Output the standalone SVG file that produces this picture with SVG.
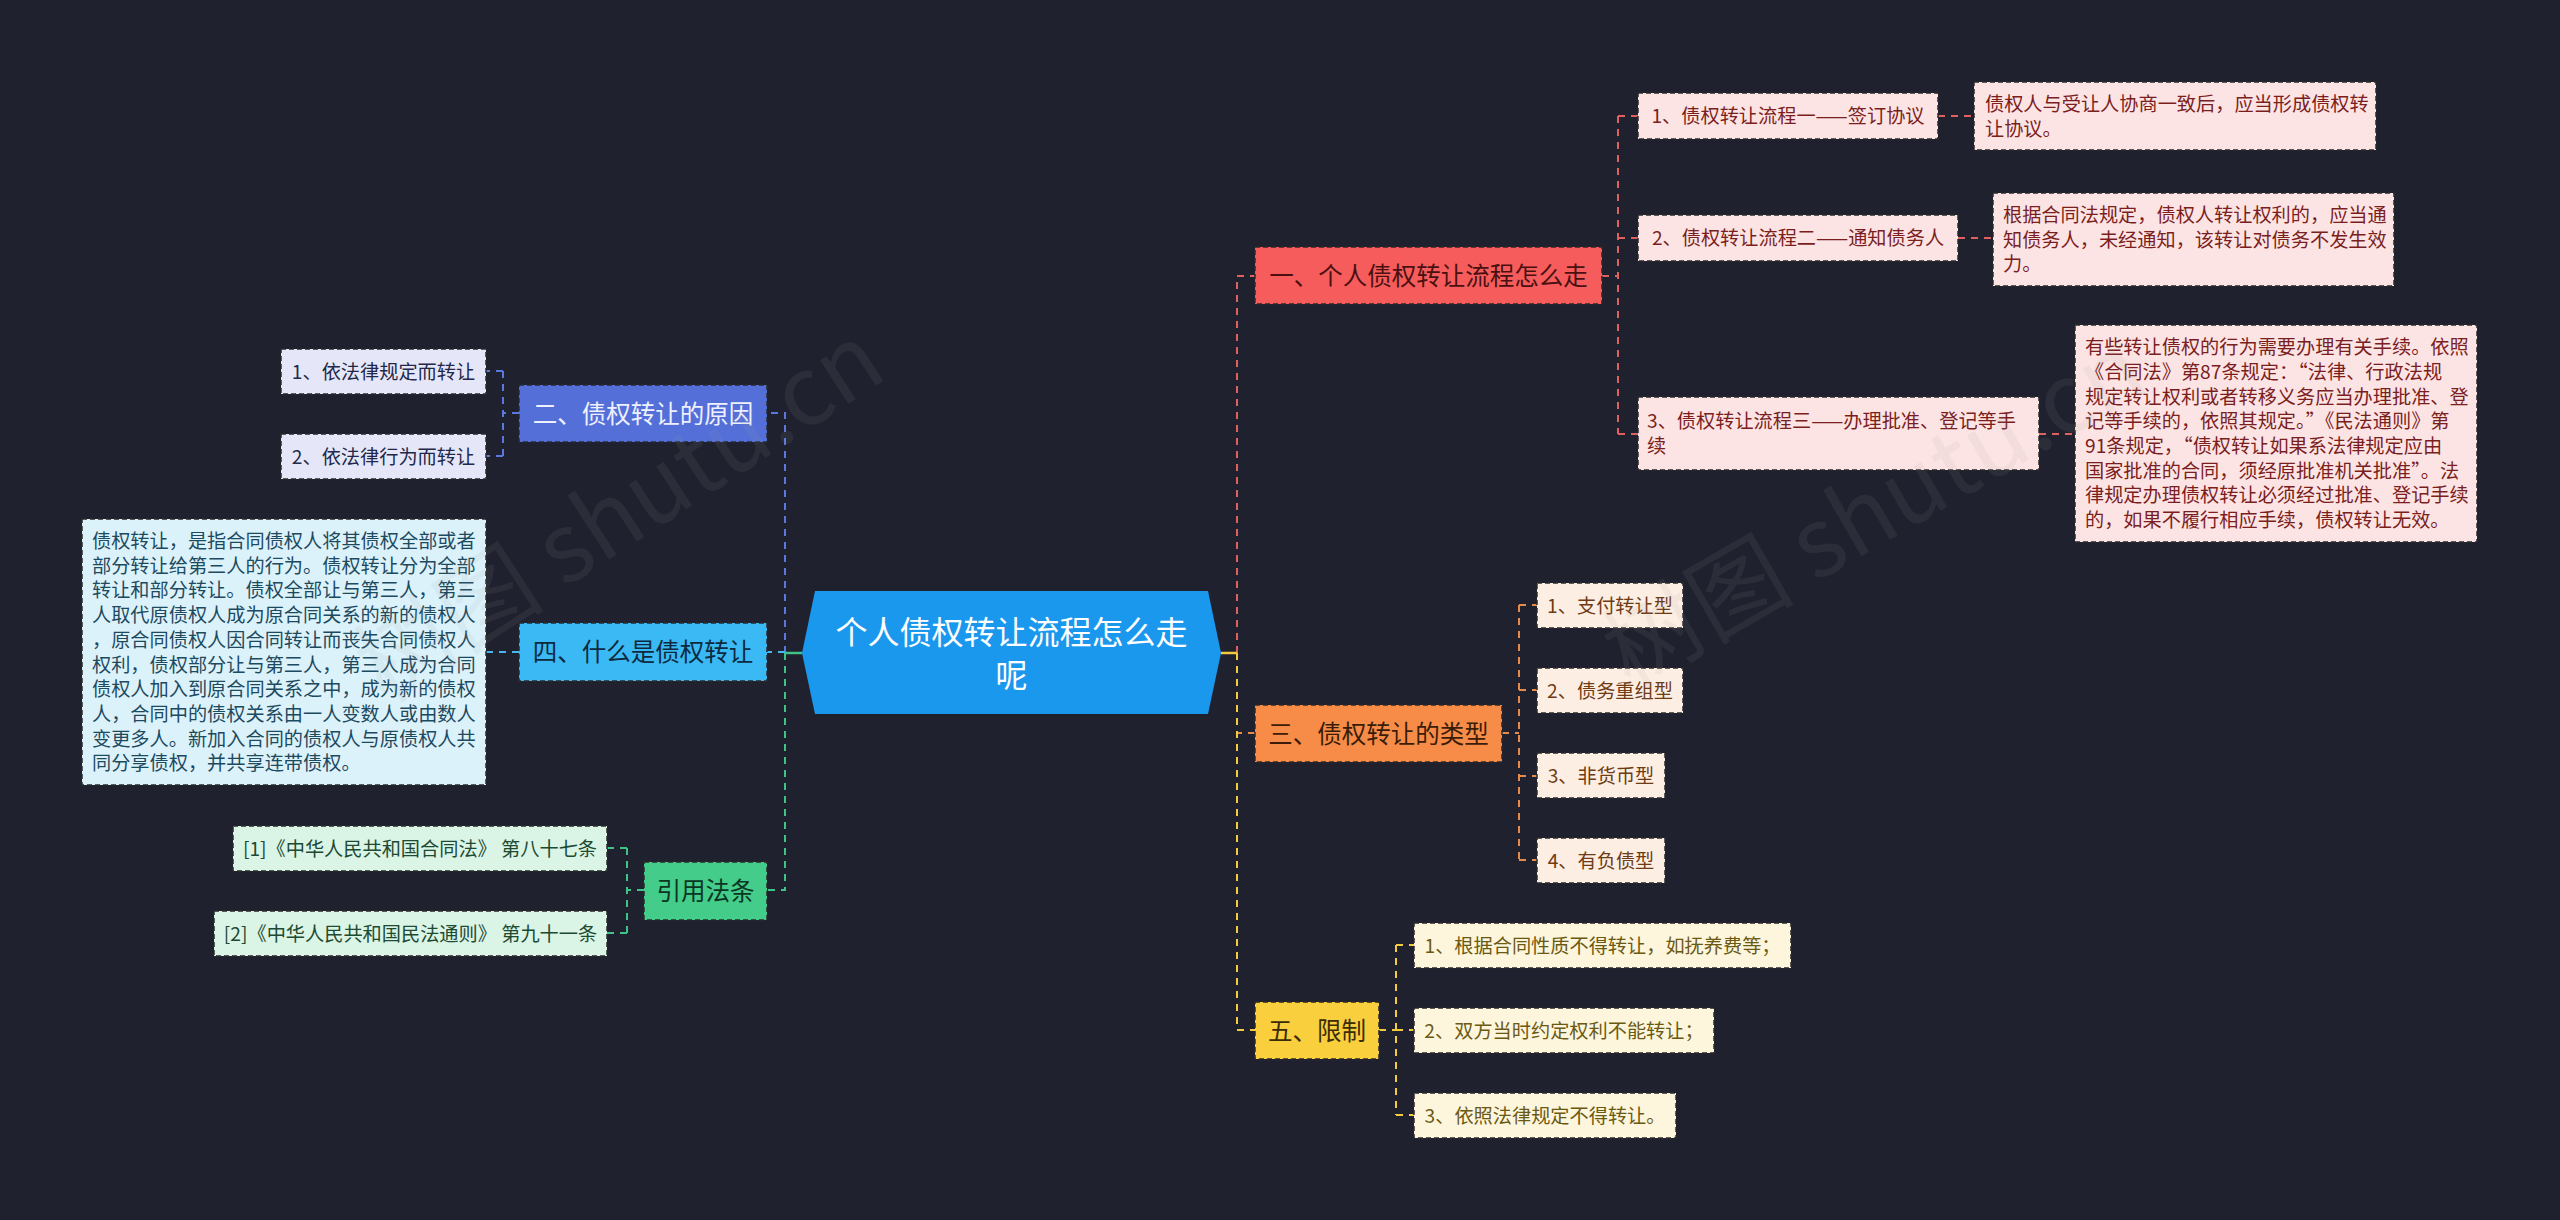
<svg xmlns="http://www.w3.org/2000/svg" width="2560" height="1220" viewBox="0 0 2560 1220">
<style>
text{font-family:"Noto Sans CJK SC","Noto Sans",sans-serif;}
.box{stroke:#2a2a2a;stroke-width:1.5;stroke-dasharray:5 3;}
.s{font-size:19.2px;}
.m{font-size:24.5px;}
.c{text-anchor:middle;}
.ln{fill:none;stroke-width:2;stroke-dasharray:7 6;}
.red{stroke:#e0605e;} .blue{stroke:#5b78e0;} .sky{stroke:#45b6ee;} .grn{stroke:#3fc487;} .org{stroke:#e88a4a;} .yel{stroke:#f2cc3e;}
.wm{font-size:96px;fill:#9a9a9a;fill-opacity:0.1;}
</style>
<rect width="2560" height="1220" fill="#1f222e"/>

<g id="connectors">
  <path class="ln org" d="M1237,653 V733 H1255"/>
  <path class="ln red" d="M1237,653 V276 H1255"/>
  <path class="ln yel" d="M1237,653 V1030 H1255"/>
  <path d="M1221,653 H1237" stroke="#f2cc3e" stroke-width="2.5"/>
  <path class="ln red" d="M1602,276 H1618 M1618,116 V434 M1618,116 H1638 M1618,238 H1638 M1618,434 H1638"/>
  <path class="ln red" d="M1938,116 H1974 M1958,238 H1993 M2039,434 H2075"/>
  <path class="ln org" d="M1502,733 H1519 M1519,605 V860 M1519,605 H1537 M1519,690 H1537 M1519,776 H1537 M1519,860 H1537"/>
  <path class="ln yel" d="M1379,1030 H1396 M1396,945 V1115 M1396,945 H1414 M1396,1030 H1414 M1396,1115 H1414"/>
  <path class="ln blue" d="M785,653 V413 H767"/>
  <path class="ln grn" d="M785,653 V890 H767"/>
  <path class="ln sky" d="M785,652 H767"/>
  <path d="M802,653 H785" stroke="#3fc487" stroke-width="2.5"/>
  <path class="ln blue" d="M519,413 H503 M503,371 V456 M503,371 H486 M503,456 H486"/>
  <path class="ln sky" d="M519,652 H486"/>
  <path class="ln grn" d="M644,890 H627 M627,848 V933 M627,848 H607 M627,933 H607"/>
</g>

<g id="root">
  <polygon points="802,653 815,591 1208,591 1221,653 1208,714 815,714" fill="#1a98ee"/>
  <text class="c" x="1011.5" y="644" font-size="32" fill="#ffffff">个人债权转让流程怎么走</text>
  <text class="c" x="1011.5" y="687" font-size="32" fill="#ffffff">呢</text>
</g>

<g id="n1">
  <rect class="box" x="1255" y="247" width="347" height="57" fill="#f65c5c"/>
  <text class="m c" x="1428.5" y="285" fill="#4a1010">一、个人债权转让流程怎么走</text>
</g>
<g id="n1-1">
  <rect class="box" x="1638" y="93" width="300" height="46" fill="#fde4e4"/>
  <text class="s c" x="1788" y="123" fill="#7a1e1e">1、债权转让流程一——签订协议</text>
</g>
<g id="n1-1d">
  <rect class="box" x="1974" y="82" width="402" height="68" fill="#fde4e4"/>
  <text class="s" x="1985" fill="#7a1e1e"><tspan x="1985" y="111">债权人与受让人协商一致后，应当形成债权转</tspan><tspan x="1985" y="135.7">让协议。</tspan></text>
</g>
<g id="n1-2">
  <rect class="box" x="1638" y="215" width="320" height="46" fill="#fde4e4"/>
  <text class="s c" x="1798" y="245" fill="#7a1e1e">2、债权转让流程二——通知债务人</text>
</g>
<g id="n1-2d">
  <rect class="box" x="1993" y="193" width="401" height="93" fill="#fde4e4"/>
  <text class="s" fill="#7a1e1e"><tspan x="2003" y="221.9">根据合同法规定，债权人转让权利的，应当通</tspan><tspan x="2003" y="246.6">知债务人，未经通知，该转让对债务不发生效</tspan><tspan x="2003" y="271.3">力。</tspan></text>
</g>
<g id="n1-3">
  <rect class="box" x="1638" y="397" width="401" height="73" fill="#fde4e4"/>
  <text class="s" fill="#7a1e1e"><tspan x="1647" y="428.3">3、债权转让流程三——办理批准、登记等手</tspan><tspan x="1647" y="453">续</tspan></text>
</g>
<g id="n1-3d">
  <rect class="box" x="2075" y="325" width="402" height="217" fill="#fde4e4"/>
  <text class="s" fill="#7a1e1e"><tspan x="2085" y="354.1">有些转让债权的行为需要办理有关手续。依照</tspan><tspan x="2085" y="378.8">《合同法》第87条规定：“法律、行政法规</tspan><tspan x="2085" y="403.5">规定转让权利或者转移义务应当办理批准、登</tspan><tspan x="2085" y="428.2">记等手续的，依照其规定。”《民法通则》第</tspan><tspan x="2085" y="452.9">91条规定，“债权转让如果系法律规定应由</tspan><tspan x="2085" y="477.6">国家批准的合同，须经原批准机关批准”。法</tspan><tspan x="2085" y="502.3">律规定办理债权转让必须经过批准、登记手续</tspan><tspan x="2085" y="527">的，如果不履行相应手续，债权转让无效。</tspan></text>
</g>

<g id="n3">
  <rect class="box" x="1255" y="705" width="247" height="57" fill="#f78c48"/>
  <text class="m c" x="1378.5" y="742.5" fill="#3a1c08">三、债权转让的类型</text>
</g>
<g id="n3-1">
  <rect class="box" x="1537" y="583" width="146" height="45" fill="#fdeee3"/>
  <text class="s c" x="1610" y="612.6" fill="#6e3b14">1、支付转让型</text>
</g>
<g id="n3-2">
  <rect class="box" x="1537" y="668" width="146" height="45" fill="#fdeee3"/>
  <text class="s c" x="1610" y="697.6" fill="#6e3b14">2、债务重组型</text>
</g>
<g id="n3-3">
  <rect class="box" x="1537" y="753" width="128" height="45" fill="#fdeee3"/>
  <text class="s c" x="1601" y="782.6" fill="#6e3b14">3、非货币型</text>
</g>
<g id="n3-4">
  <rect class="box" x="1537" y="838" width="128" height="45" fill="#fdeee3"/>
  <text class="s c" x="1601" y="867.6" fill="#6e3b14">4、有负债型</text>
</g>

<g id="n5">
  <rect class="box" x="1255" y="1002" width="124" height="57" fill="#f9cf3e"/>
  <text class="m c" x="1317" y="1039.5" fill="#3a2c05">五、限制</text>
</g>
<g id="n5-1">
  <rect class="box" x="1414" y="923" width="377" height="45" fill="#fdf6dd"/>
  <text class="s c" x="1602.5" y="952.6" fill="#6b5912">1、根据合同性质不得转让，如抚养费等；</text>
</g>
<g id="n5-2">
  <rect class="box" x="1414" y="1008" width="300" height="45" fill="#fdf6dd"/>
  <text class="s c" x="1564" y="1037.6" fill="#6b5912">2、双方当时约定权利不能转让；</text>
</g>
<g id="n5-3">
  <rect class="box" x="1414" y="1093" width="262" height="45" fill="#fdf6dd"/>
  <text class="s c" x="1545" y="1122.6" fill="#6b5912">3、依照法律规定不得转让。</text>
</g>

<g id="n2">
  <rect class="box" x="519" y="385" width="248" height="57" fill="#5470d8"/>
  <text class="m c" x="643" y="422.5" fill="#eef0ff">二、债权转让的原因</text>
</g>
<g id="n2-1">
  <rect class="box" x="281" y="349" width="205" height="45" fill="#e5e7f8"/>
  <text class="s c" x="383.5" y="378.6" fill="#23284a">1、依法律规定而转让</text>
</g>
<g id="n2-2">
  <rect class="box" x="281" y="434" width="205" height="45" fill="#e5e7f8"/>
  <text class="s c" x="383.5" y="463.6" fill="#23284a">2、依法律行为而转让</text>
</g>

<g id="n4">
  <rect class="box" x="519" y="623" width="248" height="58" fill="#3bb9f4"/>
  <text class="m c" x="643" y="661" fill="#0d2a3e">四、什么是债权转让</text>
</g>
<g id="n4-d">
  <rect class="box" x="82" y="519" width="404" height="266" fill="#dcf2fb"/>
  <text class="s" fill="#1c4a60"><tspan x="92" y="548">债权转让，是指合同债权人将其债权全部或者</tspan><tspan x="92" y="572.7">部分转让给第三人的行为。债权转让分为全部</tspan><tspan x="92" y="597.4">转让和部分转让。债权全部让与第三人，第三</tspan><tspan x="92" y="622.1">人取代原债权人成为原合同关系的新的债权人</tspan><tspan x="92" y="646.8">，原合同债权人因合同转让而丧失合同债权人</tspan><tspan x="92" y="671.5">权利，债权部分让与第三人，第三人成为合同</tspan><tspan x="92" y="696.2">债权人加入到原合同关系之中，成为新的债权</tspan><tspan x="92" y="720.9">人，合同中的债权关系由一人变数人或由数人</tspan><tspan x="92" y="745.6">变更多人。新加入合同的债权人与原债权人共</tspan><tspan x="92" y="770.3">同分享债权，并共享连带债权。</tspan></text>
</g>

<g id="n6">
  <rect class="box" x="644" y="862" width="123" height="58" fill="#43cc8a"/>
  <text class="m c" x="705.5" y="900" fill="#0b3622">引用法条</text>
</g>
<g id="n6-1">
  <rect class="box" x="233" y="826" width="374" height="45" fill="#daf4e6"/>
  <text class="s c" x="420" y="855.6" fill="#1c4a32">[1]《中华人民共和国合同法》 第八十七条</text>
</g>
<g id="n6-2">
  <rect class="box" x="214" y="911" width="393" height="45" fill="#daf4e6"/>
  <text class="s c" x="410.5" y="940.6" fill="#1c4a32">[2]《中华人民共和国民法通则》 第九十一条</text>
</g>

<g id="watermark">
  <text class="wm" transform="translate(385,705) rotate(-33)">树图 shutu.cn</text>
  <text class="wm" transform="translate(1630,690) rotate(-30)">树图 shutu.cn</text>
</g>
</svg>
